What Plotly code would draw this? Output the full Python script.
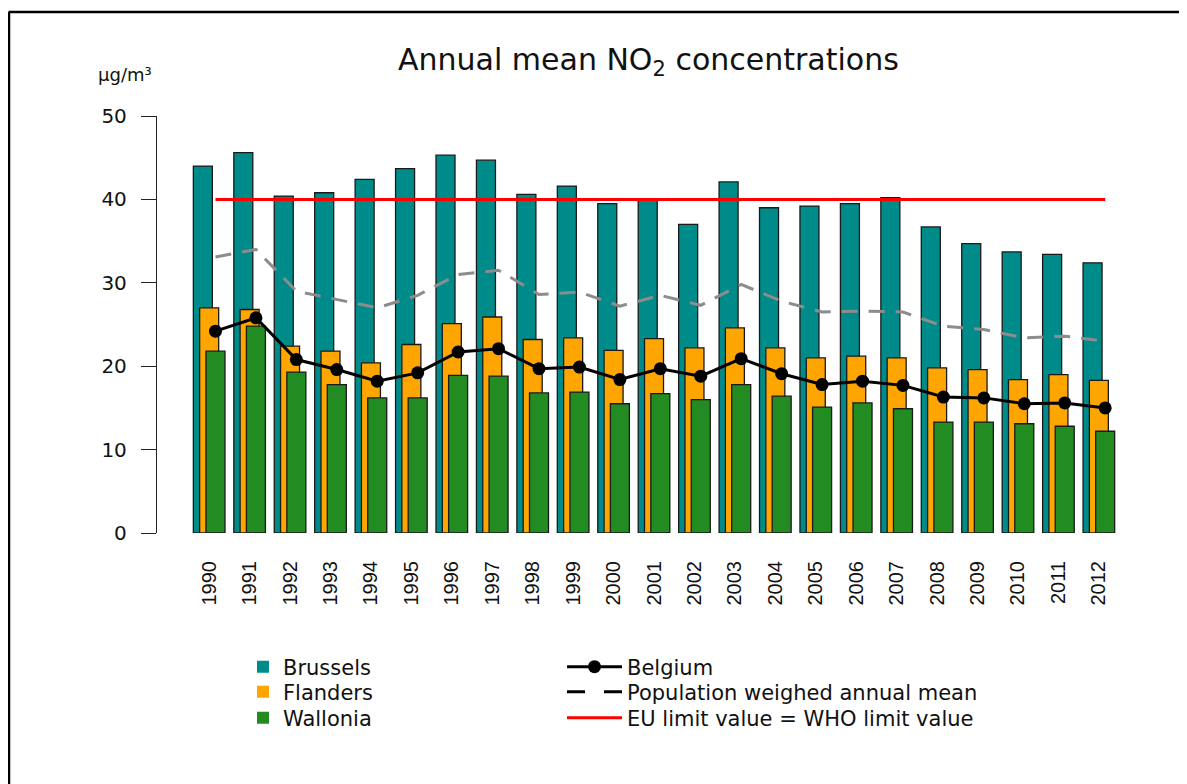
import plotly.graph_objects as go

years = ["1990", "1991", "1992", "1993", "1994", "1995", "1996", "1997", "1998", "1999",
         "2000", "2001", "2002", "2003", "2004", "2005", "2006", "2007", "2008", "2009",
         "2010", "2011", "2012"]
brussels = [44.0, 45.6, 40.4, 40.8, 42.4, 43.7, 45.3, 44.7, 40.6, 41.6,
            39.5, 39.9, 37.0, 42.1, 39.0, 39.2, 39.5, 40.2, 36.7, 34.7,
            33.7, 33.4, 32.4]
flanders = [27.0, 26.8, 22.4, 21.8, 20.4, 22.6, 25.1, 25.9, 23.2, 23.4,
            21.9, 23.3, 22.2, 24.6, 22.2, 21.0, 21.2, 21.0, 19.8, 19.6,
            18.4, 19.0, 18.3]
wallonia = [21.8, 24.8, 19.3, 17.8, 16.2, 16.2, 18.9, 18.8, 16.8, 16.9,
            15.5, 16.7, 16.0, 17.8, 16.4, 15.1, 15.6, 14.9, 13.3, 13.3,
            13.1, 12.8, 12.2]
belgium = [24.2, 25.8, 20.8, 19.6, 18.2, 19.2, 21.7, 22.1, 19.7, 19.9,
           18.4, 19.7, 18.8, 20.9, 19.1, 17.8, 18.2, 17.7, 16.3, 16.2,
           15.5, 15.6, 15.0]
pop_weighted = [33.1, 34.0, 29.0, 28.0, 27.0, 28.5, 31.0, 31.5, 28.6, 28.9,
                27.2, 28.5, 27.3, 29.8, 27.8, 26.5, 26.6, 26.5, 24.8, 24.4,
                23.4, 23.6, 23.0]
eu_limit = 40

xs = list(range(len(years)))
BAR_W = 0.47
STEP = 0.156
line_x = [i + STEP for i in xs]

SANS = "DejaVu Sans, Verdana, sans-serif"
ARIAL = "Liberation Sans, Arial, Helvetica, sans-serif"
TXT = "#111111"
outline = dict(color="#1a1a1a", width=1.3)
C_BRU, C_FLA, C_WAL = "#008B8B", "#FFA500", "#228B22"

# page offset (html body margin) -> convert reference-pixel positions to figure pixels
OFF = 8
W, H = 1187 - OFF, 784 - OFF
L, R, T, B = 157 - OFF, 1130 - OFF, 116 - OFF, 533 - OFF


def pxx(px):
    return (px - OFF - L) / (R - L)


def pxy(py):
    return (B - (py - OFF)) / (B - T)


fig = go.Figure()
for vals, col, off in [(brussels, C_BRU, -BAR_W / 2 - STEP),
                       (flanders, C_FLA, -BAR_W / 2),
                       (wallonia, C_WAL, -BAR_W / 2 + STEP)]:
    fig.add_trace(go.Bar(x=xs, y=vals, width=BAR_W, offset=off, showlegend=False,
                         marker=dict(color=col, line=outline)))

# legend keys for the regions (small squares as in the original)
for name, col, lg in [("Brussels", C_BRU, "legend"), ("Flanders", C_FLA, "legend2"),
                      ("Wallonia", C_WAL, "legend3")]:
    fig.add_trace(go.Scatter(x=[None], y=[None], mode="markers", name=name, legend=lg,
                             marker=dict(symbol="square", size=12, color=col,
                                         line=dict(width=0))))

fig.add_trace(go.Scatter(x=line_x, y=pop_weighted, mode="lines", showlegend=False,
                         line=dict(color="#8c8c8c", width=3, dash="16px,11px")))
fig.add_trace(go.Scatter(x=[line_x[0], line_x[-1]], y=[eu_limit, eu_limit], mode="lines",
                         name="EU limit value = WHO limit value",
                         line=dict(color="#ff0000", width=3), legend="legend6"))
fig.add_trace(go.Scatter(x=line_x, y=belgium, mode="lines+markers", name="Belgium",
                         line=dict(color="black", width=3),
                         marker=dict(color="black", size=13), legend="legend4"))
fig.add_trace(go.Scatter(x=[None], y=[None], mode="lines", name="Population weighed annual mean",
                         line=dict(color="black", width=3, dash="18px,19px"), legend="legend5"))

leg_font = dict(size=21, family=SANS, color=TXT)
rows = [667, 692, 718]
col1_x, col2_x = 243, 562


def leg(x, y, iw=30):
    return dict(x=pxx(x), y=pxy(y), xanchor="left", yanchor="middle", orientation="v",
                font=leg_font, bgcolor="rgba(0,0,0,0)", itemwidth=iw, borderwidth=0)


fig.update_layout(
    width=W, height=H,
    margin=dict(l=L, r=W - R, t=T, b=H - B, pad=0),
    plot_bgcolor="white", paper_bgcolor="white",
    barmode="overlay",
    font=dict(family=SANS, color=TXT),
    xaxis=dict(range=[-1.29, 22.77], tickmode="array", tickvals=xs, ticktext=years,
               tickangle=-90, showgrid=False, zeroline=False, showline=False,
               ticks="outside", ticklen=19, tickcolor="rgba(0,0,0,0)",
               tickfont=dict(size=20, family=ARIAL, color=TXT)),
    yaxis=dict(range=[0, 50], tickvals=[0, 10, 20, 30, 40, 50], showgrid=False,
               zeroline=False, showline=True, linecolor="#222222", linewidth=1.3,
               ticks="outside", ticklen=15, tickcolor="#222222", tickwidth=1.3,
               ticklabelstandoff=10,
               tickfont=dict(size=20, family=SANS, color=TXT)),
    legend=leg(col1_x, rows[0]),
    legend2=leg(col1_x, rows[1]),
    legend3=leg(col1_x, rows[2]),
    legend4=leg(col2_x, rows[0], 55),
    legend5=leg(col2_x, rows[1], 55),
    legend6=leg(col2_x, rows[2], 55),
    showlegend=True,
)

fig.add_annotation(text="Annual mean NO<sub>2</sub> concentrations", xref="paper", yref="paper",
                   x=pxx(648), y=pxy(62), xanchor="center", yanchor="middle",
                   showarrow=False, font=dict(size=30, family=SANS, color=TXT))
fig.add_annotation(text="µg/m³", xref="paper", yref="paper",
                   x=pxx(125), y=pxy(75), xanchor="center", yanchor="middle",
                   showarrow=False, font=dict(size=18, family=SANS, color=TXT))

# image frame (top and left edges)
fig.add_shape(type="line", xref="paper", yref="paper",
              x0=pxx(8.5), x1=pxx(1187), y0=pxy(12), y1=pxy(12),
              line=dict(color="black", width=2.5))
fig.add_shape(type="line", xref="paper", yref="paper",
              x0=pxx(9), x1=pxx(9), y0=pxy(12), y1=pxy(784),
              line=dict(color="black", width=2.5))

fig.write_html("out.html")
